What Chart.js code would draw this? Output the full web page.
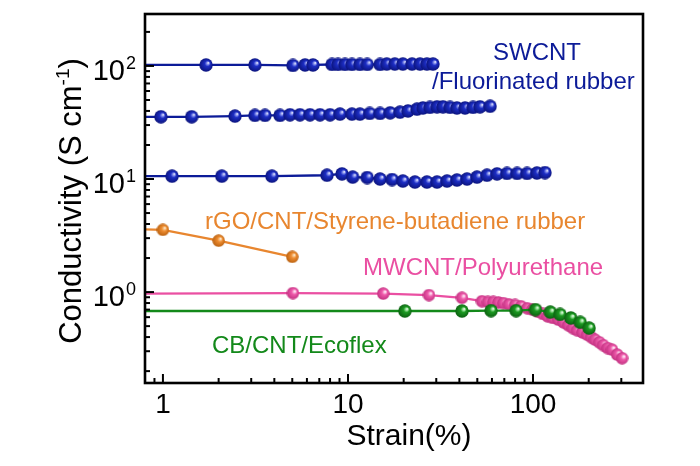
<!DOCTYPE html>
<html>
<head>
<meta charset="utf-8">
<title>Conductivity vs strain</title>
<script src="https://cdn.jsdelivr.net/npm/chart.js"></script>
<style>
  body { margin: 0; background: #fff; }
  #wrap { width: 700px; height: 466px; }
</style>
</head>
<body>
<div id="wrap"><canvas id="strainChart"></canvas></div>
<script>
// values: strain (%) and conductivity (S/cm)
// the 0.7 % points sit left of the axis and only carry the line to the frame
const swTopStrain = [0.7, 1.71, 3.14, 5.04, 5.86, 6.47, 8.2, 8.83, 9.63, 10.5, 11.6, 12.7, 14.9, 16.2, 17.9, 19.8, 22.2, 24.5, 26.7, 28.8];
const swTopCond = [102, 102, 102, 101, 102, 102, 103, 103, 103, 103, 103, 103, 103, 104, 104, 104, 104, 104, 104, 104];

const swMidStrain = [0.7, 0.975, 1.43, 2.45, 3.14, 3.56, 4.29, 4.86, 5.5, 6.23, 7.06, 8.0, 9.05, 10.5, 11.6, 13.1, 14.9, 16.9, 19.1, 21.1, 23.6, 25.4, 27.7, 30.3, 32.6, 35.6, 38.8, 42.9, 47.4, 51.7, 58.6];
const swMidCond = [35.5, 35.5, 35.5, 36, 36.5, 36.5, 36.5, 37, 37, 37, 37, 37, 37.5, 37.5, 37.5, 38, 38, 38.5, 39, 40, 41.5, 42.5, 43, 43.5, 43.5, 43, 42.5, 42.5, 43, 43.5, 44];

const swLowStrain = [0.7, 1.12, 2.08, 3.88, 7.7, 9.28, 10.6, 12.7, 14.9, 17.3, 19.8, 23.0, 26.7, 30.3, 34.3, 38.8, 44.0, 49.8, 56.4, 63.9, 72.3, 82.0, 92.8, 105, 116];
const swLowCond = [10.6, 10.6, 10.6, 10.6, 10.8, 11.1, 10.4, 10.3, 10, 9.9, 9.6, 9.4, 9.4, 9.4, 9.6, 9.8, 10, 10.4, 10.8, 11.1, 11.2, 11.2, 11.2, 11.3, 11.4];

const rgoStrain = [0.7, 1.0, 2.0, 5.0];
const rgoCond = [3.6, 3.55, 2.85, 2.05];

const mwStrain = [0.7, 5.04, 15.5, 27.4, 41.3, 53, 57, 61, 65, 69, 74, 80, 86, 93, 99, 106, 113, 120, 128, 137, 146, 155, 164, 173, 185, 196, 206, 216, 228, 239, 253, 267, 285, 303];
const mwCond = [0.97, 0.98, 0.97, 0.94, 0.89, 0.83, 0.82, 0.82, 0.81, 0.80, 0.78, 0.77, 0.75, 0.72, 0.70, 0.67, 0.64, 0.61, 0.59, 0.57, 0.54, 0.51, 0.48, 0.46, 0.44, 0.42, 0.40, 0.38, 0.36, 0.34, 0.32, 0.31, 0.28, 0.26];

const cbStrain = [0.7, 20.3, 41.3, 59.3, 81, 103, 124, 140, 160, 180, 201];
const cbCond = [0.68, 0.68, 0.68, 0.685, 0.685, 0.70, 0.665, 0.635, 0.59, 0.54, 0.48];

const xTickValues = [0.9, 1, 2, 3, 4, 5, 6, 7, 8, 9, 10, 20, 30, 40, 50, 60, 70, 80, 90, 100, 200, 300];
const yTickValues = [0.2, 0.3, 0.4, 0.5, 0.6, 0.7, 0.8, 0.9, 1, 2, 3, 4, 5, 6, 7, 8, 9, 10, 20, 30, 40, 50, 60, 70, 80, 90, 100, 200];
const xLabelValues = [1, 10, 100];
const yLabelValues = [1, 10, 100];

const FONT = "'Liberation Sans', Arial, sans-serif";
const BLUE = '#0c1b98';
const ORANGE = '#e8862f';
const PINK = '#ea4fa2';
const GREEN = '#13891a';

// shaded ball used as point marker
function ball(size, light, base, dark) {
    const c = document.createElement('canvas');
    c.width = c.height = size;
    const g = c.getContext('2d');
    const r = size / 2;
    const grad = g.createRadialGradient(r * 1.35, r * 0.68, 0, r, r, r);
    grad.addColorStop(0, '#ffffff');
    grad.addColorStop(0.18, light);
    grad.addColorStop(0.4, base);
    grad.addColorStop(1, dark);
    g.fillStyle = grad;
    g.beginPath();
    g.arc(r, r, r - 0.3, 0, Math.PI * 2);
    g.fill();
    return c;
}

const blueBall = ball(14, '#8a95ee', '#1d2ec4', '#0a127a');
const orangeBall = ball(13, '#f8c890', '#ee8c30', '#b8600f');
const pinkBall = ball(13, '#fbc2e2', '#ef5aab', '#c02f7f');
const greenBall = ball(14, '#9ee39e', '#1c9a22', '#0b5e10');

function pts(xs, ys) {
    return xs.map((v, i) => ({ x: v, y: ys[i] }));
}

function series(xs, ys, color, marker) {
    return {
        data: pts(xs, ys),
        borderColor: color,
        backgroundColor: color,
        borderWidth: 2.3,
        pointStyle: marker,
        pointRadius: 7,
        fill: false,
        tension: 0
    };
}

function isDecade(v) {
    const l = Math.log10(v);
    return Math.abs(l - Math.round(l)) < 1e-9;
}

// frame, inward ticks, tick labels, titles and series names
const decorations = {
    id: 'decorations',
    afterDraw(chart) {
        const { ctx, chartArea: a, scales: { x, y } } = chart;
        ctx.save();
        ctx.strokeStyle = '#000';
        ctx.lineWidth = 2;
        xTickValues.forEach(v => {
            const px = x.getPixelForValue(v);
            ctx.beginPath();
            ctx.moveTo(px, a.bottom);
            ctx.lineTo(px, a.bottom - (isDecade(v) ? 9 : 5));
            ctx.stroke();
        });
        yTickValues.forEach(v => {
            const py = y.getPixelForValue(v);
            ctx.beginPath();
            ctx.moveTo(a.left, py);
            ctx.lineTo(a.left + (isDecade(v) ? 9 : 5), py);
            ctx.stroke();
        });
        ctx.lineWidth = 2.6;
        ctx.strokeRect(a.left, a.top, a.right - a.left, a.bottom - a.top);

        ctx.fillStyle = '#000';
        ctx.textBaseline = 'alphabetic';
        ctx.font = '28px ' + FONT;
        ctx.textAlign = 'center';
        xLabelValues.forEach(v => ctx.fillText(String(v), x.getPixelForValue(v), a.bottom + 30));

        yLabelValues.forEach(v => {
            const py = y.getPixelForValue(v);
            ctx.font = '29px ' + FONT;
            ctx.textAlign = 'right';
            ctx.fillText('10', a.left - 20, py + 14);
            ctx.font = '18px ' + FONT;
            ctx.textAlign = 'left';
            ctx.fillText(String(Math.round(Math.log10(v))), a.left - 19, py + 3);
        });

        ctx.font = '30px ' + FONT;
        ctx.textAlign = 'center';
        ctx.fillText('Strain(%)', 409, 445);

        // rotated y title with superscript
        ctx.save();
        ctx.translate(81, 201);
        ctx.rotate(-Math.PI / 2);
        const main = 'Conductivity (S cm';
        ctx.font = '31px ' + FONT;
        const w1 = ctx.measureText(main).width;
        const w3 = ctx.measureText(')').width;
        ctx.font = '19px ' + FONT;
        const w2 = ctx.measureText('-1').width;
        const sx = -(w1 + w2 + w3) / 2;
        ctx.textAlign = 'left';
        ctx.font = '31px ' + FONT;
        ctx.fillText(main, sx, 0);
        ctx.font = '19px ' + FONT;
        ctx.fillText('-1', sx + w1, -12);
        ctx.font = '31px ' + FONT;
        ctx.fillText(')', sx + w1 + w2, 0);
        ctx.restore();

        ctx.font = '24px ' + FONT;
        ctx.fillStyle = BLUE;
        ctx.textAlign = 'center';
        ctx.fillText('SWCNT', 537, 60);
        ctx.textAlign = 'left';
        ctx.fillText('/Fluorinated rubber', 432, 89);
        ctx.fillStyle = ORANGE;
        ctx.fillText('rGO/CNT/Styrene-butadiene rubber', 205, 229);
        ctx.fillStyle = PINK;
        ctx.fillText('MWCNT/Polyurethane', 363, 275);
        ctx.fillStyle = GREEN;
        ctx.fillText('CB/CNT/Ecoflex', 212, 353);
        ctx.restore();
    }
};

const ctx = document.getElementById('strainChart').getContext('2d');
const chart = new Chart(ctx, {
    type: 'line',
    data: {
        datasets: [
            series(cbStrain, cbCond, GREEN, greenBall),
            series(mwStrain, mwCond, PINK, pinkBall),
            series(rgoStrain, rgoCond, ORANGE, orangeBall),
            series(swLowStrain, swLowCond, BLUE, blueBall),
            series(swMidStrain, swMidCond, BLUE, blueBall),
            series(swTopStrain, swTopCond, BLUE, blueBall)
        ]
    },
    options: {
        responsive: true,
        maintainAspectRatio: false,
        animation: false,
        layout: { padding: { top: 14, right: 57, left: 0, bottom: 0 } },
        plugins: {
            legend: { display: false },
            tooltip: { enabled: false }
        },
        scales: {
            x: {
                type: 'logarithmic',
                min: 0.8,
                max: 393,
                grid: { display: false, drawTicks: false },
                border: { display: false },
                ticks: { display: false },
                afterFit: s => { s.height = 83; }
            },
            y: {
                type: 'logarithmic',
                min: 0.157,
                max: 288,
                grid: { display: false, drawTicks: false },
                border: { display: false },
                ticks: { display: false },
                afterFit: s => { s.width = 145; }
            }
        }
    },
    plugins: [decorations]
});
</script>
</body>
</html>
